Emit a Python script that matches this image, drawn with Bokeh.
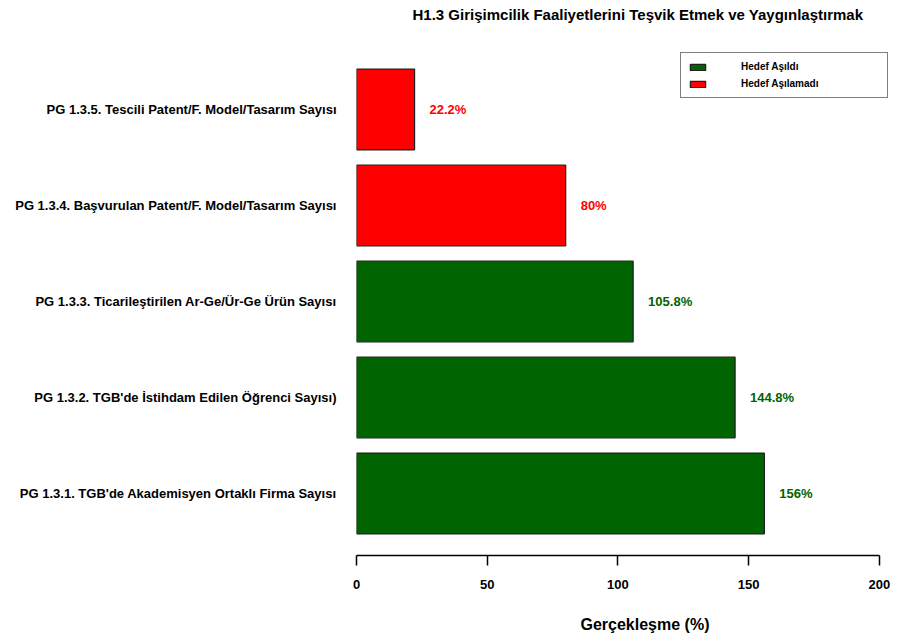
from bokeh.plotting import figure
from bokeh.models import ColumnDataSource, FactorRange, Range1d, FixedTicker, Title
from bokeh.core.properties import value
from bokeh.embed import file_html
from bokeh.resources import INLINE

title_text = "H1.3 Girişimcilik Faaliyetlerini Teşvik Etmek ve Yaygınlaştırmak"
categories = [
    "PG 1.3.1. TGB'de Akademisyen Ortaklı Firma Sayısı",
    "PG 1.3.2. TGB'de İstihdam Edilen Öğrenci Sayısı)",
    "PG 1.3.3. Ticarileştirilen Ar-Ge/Ür-Ge Ürün Sayısı",
    "PG 1.3.4. Başvurulan Patent/F. Model/Tasarım Sayısı",
    "PG 1.3.5. Tescili Patent/F. Model/Tasarım Sayısı",
]
values = [156, 144.8, 105.8, 80, 22.2]
status = ["Hedef Aşıldı", "Hedef Aşıldı", "Hedef Aşıldı", "Hedef Aşılamadı", "Hedef Aşılamadı"]
status_colors = {"Hedef Aşıldı": "#006400", "Hedef Aşılamadı": "#FF0000"}
x_ticks = [0, 50, 100, 150, 200]
x_label = "Gerçekleşme (%)"

FONT = "Liberation Sans"

src = ColumnDataSource(dict(
    cat=categories,
    val=values,
    status=status,
    color=[status_colors[s] for s in status],
    label=[f"{v:g}%" for v in values],
))

p = figure(width=900, height=635,
           y_range=FactorRange(*categories, range_padding=0.058),
           x_range=Range1d(0, 205.4),
           output_backend="svg", toolbar_location=None,
           min_border_left=356, min_border_right=7,
           min_border_top=47, min_border_bottom=80)
p.title.text = ""
p.title.visible = False

xa = p.below[0]


def spacer(size):
    return Title(text=" ", text_font_size="1px", standoff=size)


def heading(text, size, offset, valign):
    return Title(text=text, align="left", offset=offset, vertical_align=valign,
                 standoff=0, text_font=FONT, text_font_style="bold",
                 text_font_size=size, text_color="black")


# title above the frame
p.add_layout(spacer(22), "above")
p.add_layout(heading(title_text, "15px", 56, "bottom"), "above")

p.hbar(y="cat", left=0, right="val", height=0.84, source=src,
       fill_color="color", line_color="#222222", line_width=1.3,
       legend_field="status")

p.text(x="val", y="cat", text="label", source=src, x_offset=15,
       text_baseline="middle", text_align="left", text_color="color",
       text_font=value(FONT), text_font_style="bold", text_font_size="13px")

p.outline_line_color = None
p.grid.visible = False
p.background_fill_color = "white"
p.border_fill_color = "white"

xa.bounds = (0, 200)
xa.ticker = FixedTicker(ticks=x_ticks)
xa.minor_tick_line_color = None
xa.major_tick_in = 0
xa.major_tick_out = 10
xa.axis_line_width = 1.5
xa.major_tick_line_width = 1.5
xa.axis_line_color = "black"
xa.major_tick_line_color = "black"
xa.major_label_standoff = 14
xa.major_label_text_font = FONT
xa.major_label_text_font_style = "bold"
xa.major_label_text_font_size = "13px"
xa.major_label_text_color = "black"

# x-axis title below the tick labels
p.add_layout(spacer(21), "below")
p.add_layout(heading(x_label, "16px", 224, "top"), "below")

ya = p.yaxis[0]
ya.axis_line_color = None
ya.major_tick_line_color = None
ya.minor_tick_line_color = None
ya.major_label_standoff = 14
ya.major_label_text_font = FONT
ya.major_label_text_font_style = "bold"
ya.major_label_text_font_size = "13px"
ya.major_label_text_color = "black"

leg = p.legend[0]
leg.location = "top_right"
leg.margin = 5
leg.padding = 7
leg.spacing = 4
leg.glyph_width = 19
leg.glyph_height = 8
leg.label_height = 13
leg.label_standoff = 34
leg.label_width = 139
leg.border_line_color = "black"
leg.border_line_width = 1.5
leg.background_fill_color = "white"
leg.background_fill_alpha = 1
leg.label_text_font = FONT
leg.label_text_font_style = "bold"
leg.label_text_font_size = "10px"
leg.label_text_color = "black"

open("out.html", "w").write(file_html(p, INLINE))
